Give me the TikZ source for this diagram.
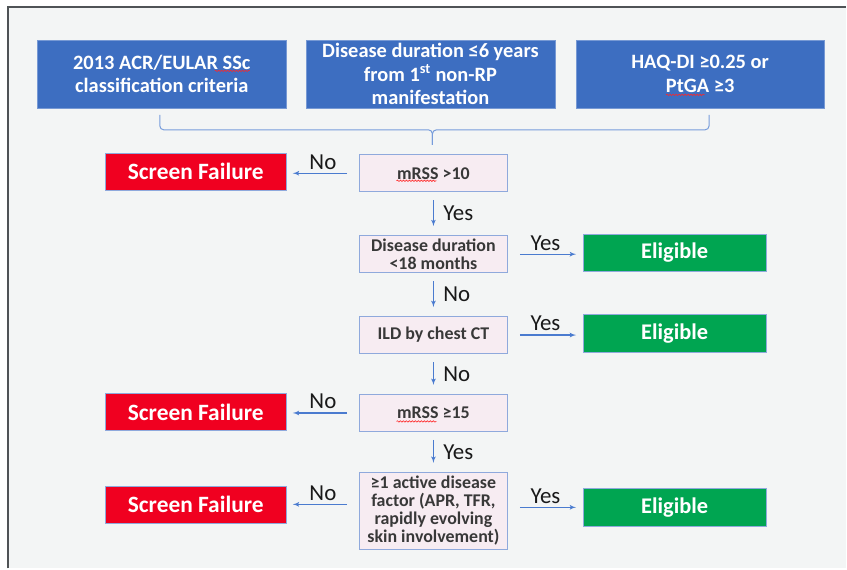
\documentclass[tikz,border=0pt]{standalone}
\usepackage{fontspec}
\setmainfont{Carlito}
\usetikzlibrary{arrows,shapes,decorations.pathmorphing}

\definecolor{panelgray}{HTML}{F3F5F5}
\definecolor{framegray}{HTML}{4F5356}
\definecolor{critblue}{HTML}{3D6EC1}
\definecolor{testpink}{HTML}{F7ECF2}
\definecolor{testedge}{HTML}{8FA9DC}
\definecolor{failred}{HTML}{F00020}
\definecolor{okgreen}{HTML}{00A551}
\definecolor{flowblue}{HTML}{4A7BCF}

\begin{document}
\begin{tikzpicture}[>=latex',line join=miter]
 \tikzstyle{criterion}=[fill=critblue,draw=critblue!70!white,text=white,align=center,inner sep=0pt,
   minimum width=249bp,minimum height=68bp,font=\bfseries\fontsize{20.5}{23.5}\selectfont]
 \tikzstyle{test}=[fill=testpink,draw=testedge,line width=1.1bp,align=center,inner sep=0pt,text=black!78,
   minimum width=148bp,minimum height=37bp,font=\bfseries\fontsize{18}{18}\selectfont]
 \tikzstyle{fail}=[fill=failred,draw=testedge,text=white,minimum width=182bp,minimum height=37bp,
   font=\bfseries\fontsize{23.5}{24}\selectfont]
 \tikzstyle{ok}=[fill=okgreen,draw=testedge,text=white,minimum width=183bp,minimum height=38bp,
   font=\bfseries\fontsize{22.5}{24}\selectfont]
 \tikzstyle{flow}=[->,draw=flowblue,line width=1.2bp]
 \tikzstyle{answer}=[text=black!90,font=\fontsize{23}{24}\selectfont]
 \tikzstyle{squiggle}=[draw=red!85,line width=0.6bp,decorate,decoration={snake,segment length=3bp,amplitude=0.7bp}]

 % slide background and frame
 \fill[white] (0bp,0bp) rectangle (847bp,-569bp);
 \fill[panelgray] (8bp,-7bp) rectangle (847bp,-569bp);
 \draw[framegray,line width=2.2bp] (8bp,-569bp) -- (8bp,-7bp) -- (847bp,-7bp);

 \node (crit1) at (162bp,-74bp) [criterion] {2013 ACR/EULAR SSc\\classification criteria};
 \node (crit2) at (431bp,-74bp) [criterion] {Disease duration ≤6 years\\from 1\textsuperscript{st} non-RP\\manifestation};
 \node (crit3) at (701bp,-74bp) [criterion] {HAQ-DI ≥0.25 or\\PtGA ≥3};

 \node (mrss10) at (434bp,-173.5bp) [test] {mRSS >10};
 \node (dur18) at (434bp,-254.5bp) [test] {Disease duration\\<18 months};
 \node (ild) at (434bp,-335.5bp) [test] {ILD by chest CT};
 \node (mrss15) at (434bp,-413.5bp) [test] {mRSS ≥15};
 \node (active) at (434bp,-511.5bp) [test,minimum height=77bp] {≥1 active disease\\factor (APR, TFR,\\rapidly evolving\\skin involvement)};

 \node (fail1) at (196bp,-172bp) [fail] {Screen Failure};
 \node (fail2) at (196bp,-412.5bp) [fail] {Screen Failure};
 \node (fail3) at (196bp,-505bp) [fail] {Screen Failure};

 \node (elig1) at (675.5bp,-253bp) [ok] {Eligible};
 \node (elig2) at (675.5bp,-334bp) [ok] {Eligible};
 \node (elig3) at (675.5bp,-508bp) [ok] {Eligible};

 % spell-check marks
 \draw[squiggle] ([shift={(53bp,3bp)}]crit1.center) -- ++(35bp,0);
 \draw[squiggle] ([shift={(-34bp,-21bp)}]crit3.center) -- ++(39bp,0);
 \draw[squiggle] ([shift={(-37bp,-7.5bp)}]mrss10.center) -- ++(40bp,0);
 \draw[squiggle] ([shift={(-37bp,-8.5bp)}]mrss15.center) -- ++(40bp,0);

 % bracket joining the three criteria
 \coordinate (braceL) at (160bp,-115bp);
 \coordinate (braceR) at (710bp,-115bp);
 \coordinate (braceM) at (433bp,-145bp);
 \draw[flowblue!75,line width=1bp,rounded corners=4bp] (braceL) |- (braceM |- 0,-130bp) -- (braceM);
 \draw[flowblue!75,line width=1bp,rounded corners=4bp] (braceR) |- (braceM |- 0,-130bp) -- (braceM);

 \draw [flow,shorten <=12bp,shorten >=6bp] (mrss10.west) to node[answer,above] {No} (mrss10.west -| fail1.east);
 \draw [flow,shorten <=8bp,shorten >=9bp] (mrss10) to node[answer,right,xshift=6bp] {Yes} (dur18);
 \draw [flow,shorten <=12bp,shorten >=7bp] (dur18.east) to node[answer,above] {Yes} (dur18.east -| elig1.west);
 \draw [flow,shorten <=8bp,shorten >=9bp] (dur18) to node[answer,right,xshift=6bp] {No} (ild);
 \draw [flow,shorten <=12bp,shorten >=7bp] (ild.east) to node[answer,above] {Yes} (ild.east -| elig2.west);
 \draw [flow,shorten <=8bp,shorten >=9bp] (ild) to node[answer,right,xshift=6bp] {No} (mrss15);
 \draw [flow,shorten <=12bp,shorten >=6bp] (mrss15.west) to node[answer,above] {No} (mrss15.west -| fail2.east);
 \draw [flow,shorten <=8bp,shorten >=9bp] (mrss15) to node[answer,right,xshift=6bp] {Yes} (active);
 \draw [flow,shorten <=12bp,shorten >=6bp] (active.west |- fail3) to node[answer,above] {No} (fail3.east);
 \draw [flow,shorten <=12bp,shorten >=7bp] (active.east |- elig3) to node[answer,above] {Yes} (elig3.west);
\end{tikzpicture}
\end{document}
